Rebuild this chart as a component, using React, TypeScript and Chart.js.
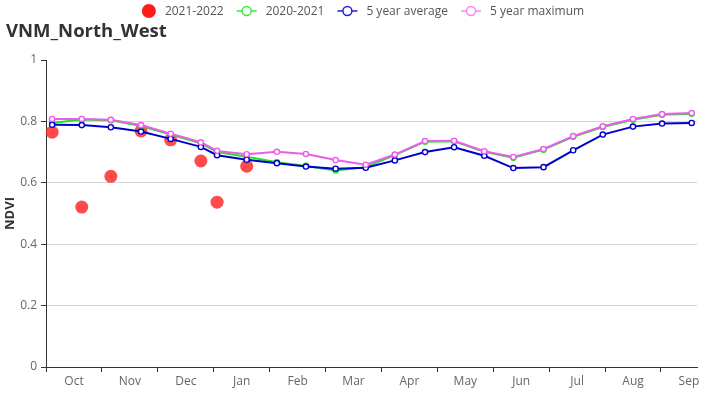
import { useEffect, useRef } from "react";
import { Chart, registerables } from "chart.js";

Chart.register(...registerables);

// Month labels on the x axis (season Oct -> Sep)
const monthLabels = ["Oct", "Nov", "Dec", "Jan", "Feb", "Mar", "Apr", "May", "Jun", "Jul", "Aug", "Sep"];
// Observation dates, expressed in months since 1 Oct (16-day composites)
const obsPositions = [0.11, 0.64, 1.16, 1.7, 2.23, 2.77, 3.06, 3.59, 4.13, 4.65, 5.18, 5.72, 6.24, 6.78, 7.3, 7.84, 8.36, 8.9, 9.43, 9.96, 10.5, 11.02, 11.55];
const axisEnd = 11.645;

const ndvi2021_2022 = [0.765, 0.521, 0.621, 0.769, 0.74, 0.671, 0.537, 0.654];
const ndvi2020_2021 = [0.795, 0.806, 0.804, 0.785, 0.757, 0.729, 0.7, 0.685, 0.667, 0.655, 0.64, 0.651, 0.69, 0.734, 0.735, 0.701, 0.682, 0.708, 0.75, 0.782, 0.805, 0.822, 0.825];
const ndvi5yrAvg = [0.789, 0.788, 0.781, 0.767, 0.743, 0.717, 0.69, 0.675, 0.664, 0.653, 0.646, 0.649, 0.673, 0.7, 0.716, 0.688, 0.648, 0.651, 0.706, 0.757, 0.783, 0.793, 0.795];
const ndvi5yrMax = [0.808, 0.808, 0.805, 0.788, 0.76, 0.732, 0.704, 0.693, 0.701, 0.694, 0.674, 0.659, 0.692, 0.736, 0.737, 0.703, 0.684, 0.71, 0.752, 0.784, 0.808, 0.824, 0.827];

const yTicks = [0, 0.2, 0.4, 0.6, 0.8, 1];

const FONT = '"Open Sans", "Noto Sans", sans-serif';
const RED = "rgba(255,35,35,0.82)";
const GREEN = "#22e022";
const BLUE = "#0000cc";
const MAGENTA = "#ee5cee";

const legendItems = [
  { label: "2021-2022", color: "#ff1a1a", kind: "dot" },
  { label: "2020-2021", color: "#33ee33", kind: "line" },
  { label: "5 year average", color: "#2020cc", kind: "line" },
  { label: "5 year maximum", color: "#ff80ff", kind: "line" },
];

const toPoints = (vals: number[]) => vals.map((v, i) => ({ x: obsPositions[i], y: v }));

const decorPlugin = {
  id: "decor",
  afterDraw(chart: any) {
    const ctx = chart.ctx as CanvasRenderingContext2D;
    ctx.save();
    // title
    ctx.font = `bold 18.5px ${FONT}`;
    ctx.fillStyle = "#333";
    ctx.textAlign = "left";
    ctx.textBaseline = "middle";
    ctx.fillText("VNM_North_West", 6, 32);

    // legend
    ctx.font = `12px ${FONT}`;
    const gapIcon = 9;
    const gapItem = 13;
    const widths = legendItems.map((it) => {
      const iw = it.kind === "dot" ? 14 : 20;
      return iw + gapIcon + ctx.measureText(it.label).width;
    });
    const total = widths.reduce((a, b) => a + b, 0) + gapItem * (legendItems.length - 1);
    let x = 363 - total / 2;
    const y = 11;
    legendItems.forEach((it) => {
      if (it.kind === "dot") {
        ctx.beginPath();
        ctx.arc(x + 7, y, 7, 0, Math.PI * 2);
        ctx.fillStyle = it.color;
        ctx.fill();
        x += 14;
      } else {
        ctx.strokeStyle = it.color;
        ctx.lineWidth = 1.5;
        ctx.beginPath();
        ctx.moveTo(x, y);
        ctx.lineTo(x + 20, y);
        ctx.stroke();
        ctx.beginPath();
        ctx.arc(x + 10, y, 4.5, 0, Math.PI * 2);
        ctx.fillStyle = "#fff";
        ctx.fill();
        ctx.stroke();
        x += 20;
      }
      x += gapIcon;
      ctx.fillStyle = "#555";
      ctx.textAlign = "left";
      ctx.textBaseline = "middle";
      ctx.fillText(it.label, x, y + 1);
      x += ctx.measureText(it.label).width + gapItem;
    });
    ctx.restore();
  },
};

export default function App() {
  const ref = useRef<HTMLCanvasElement>(null);

  useEffect(() => {
    if (!ref.current) return;
    const lineDs = (label: string, vals: number[], color: string, order: number) => ({
      label,
      data: toPoints(vals),
      borderColor: color,
      backgroundColor: "#fff",
      borderWidth: 2,
      pointRadius: 2.6,
      pointBorderWidth: 1.4,
      pointBackgroundColor: "#fff",
      pointBorderColor: color,
      tension: 0,
      order,
    });
    const chart = new Chart(ref.current, {
      type: "line",
      data: {
        datasets: [
          {
            label: "2021-2022",
            data: toPoints(ndvi2021_2022),
            showLine: false,
            pointRadius: 6.5,
            pointBorderWidth: 0,
            pointBackgroundColor: RED,
            pointBorderColor: RED,
            borderColor: RED,
            backgroundColor: RED,
            order: 4,
          } as any,
          lineDs("2020-2021", ndvi2020_2021, GREEN, 3),
          lineDs("5 year average", ndvi5yrAvg, BLUE, 2),
          lineDs("5 year maximum", ndvi5yrMax, MAGENTA, 1),
        ],
      },
      options: {
        responsive: false,
        animation: false,
        events: [],
        layout: { padding: { top: 60, right: 29, left: 0, bottom: 0 } },
        plugins: {
          legend: { display: false },
          title: { display: false },
          tooltip: { enabled: false },
        },
        scales: {
          x: {
            type: "linear",
            min: 0,
            max: axisEnd,
            afterBuildTicks: (s: any) => {
              s.ticks = monthLabels.map((_, i) => ({ value: i }));
            },
            afterFit: (s: any) => {
              s.height = 33;
            },
            ticks: {
              autoSkip: false,
              maxRotation: 0,
              minRotation: 0,
              labelOffset: 28,
              padding: 2,
              color: "#666",
              font: { size: 12, family: FONT },
              callback: (_v: any, i: number) => monthLabels[i],
            },
            grid: { drawOnChartArea: false, tickLength: 5, tickColor: "#333" },
            border: { color: "#333", width: 1 },
          },
          y: {
            min: 0,
            max: 1,
            afterBuildTicks: (s: any) => {
              s.ticks = yTicks.map((v) => ({ value: v }));
            },
            afterFit: (s: any) => {
              s.width = 46;
            },
            ticks: {
              padding: 4,
              color: "#666",
              font: { size: 12, family: FONT },
              callback: (v: any) => String(v),
            },
            grid: {
              color: (c: any) => (c.tick && (c.tick.value === 0 || c.tick.value === 1) ? "rgba(0,0,0,0)" : "#d4d4d4"),
              tickLength: 5,
              tickColor: "#333",
            },
            border: { color: "#333", width: 1 },
            title: {
              display: true,
              text: "NDVI",
              color: "#333",
              font: { size: 13, weight: "bold", family: FONT },
              padding: { top: 2, bottom: 0 },
            },
          },
        },
      },
      plugins: [decorPlugin],
    } as any);
    return () => chart.destroy();
  }, []);

  return (
    <div style={{ position: "fixed", left: 0, top: 0, width: 726, height: 400, background: "#fff" }}>
      <canvas ref={ref} width={726} height={400} style={{ display: "block", width: 726, height: 400 }} />
    </div>
  );
}
